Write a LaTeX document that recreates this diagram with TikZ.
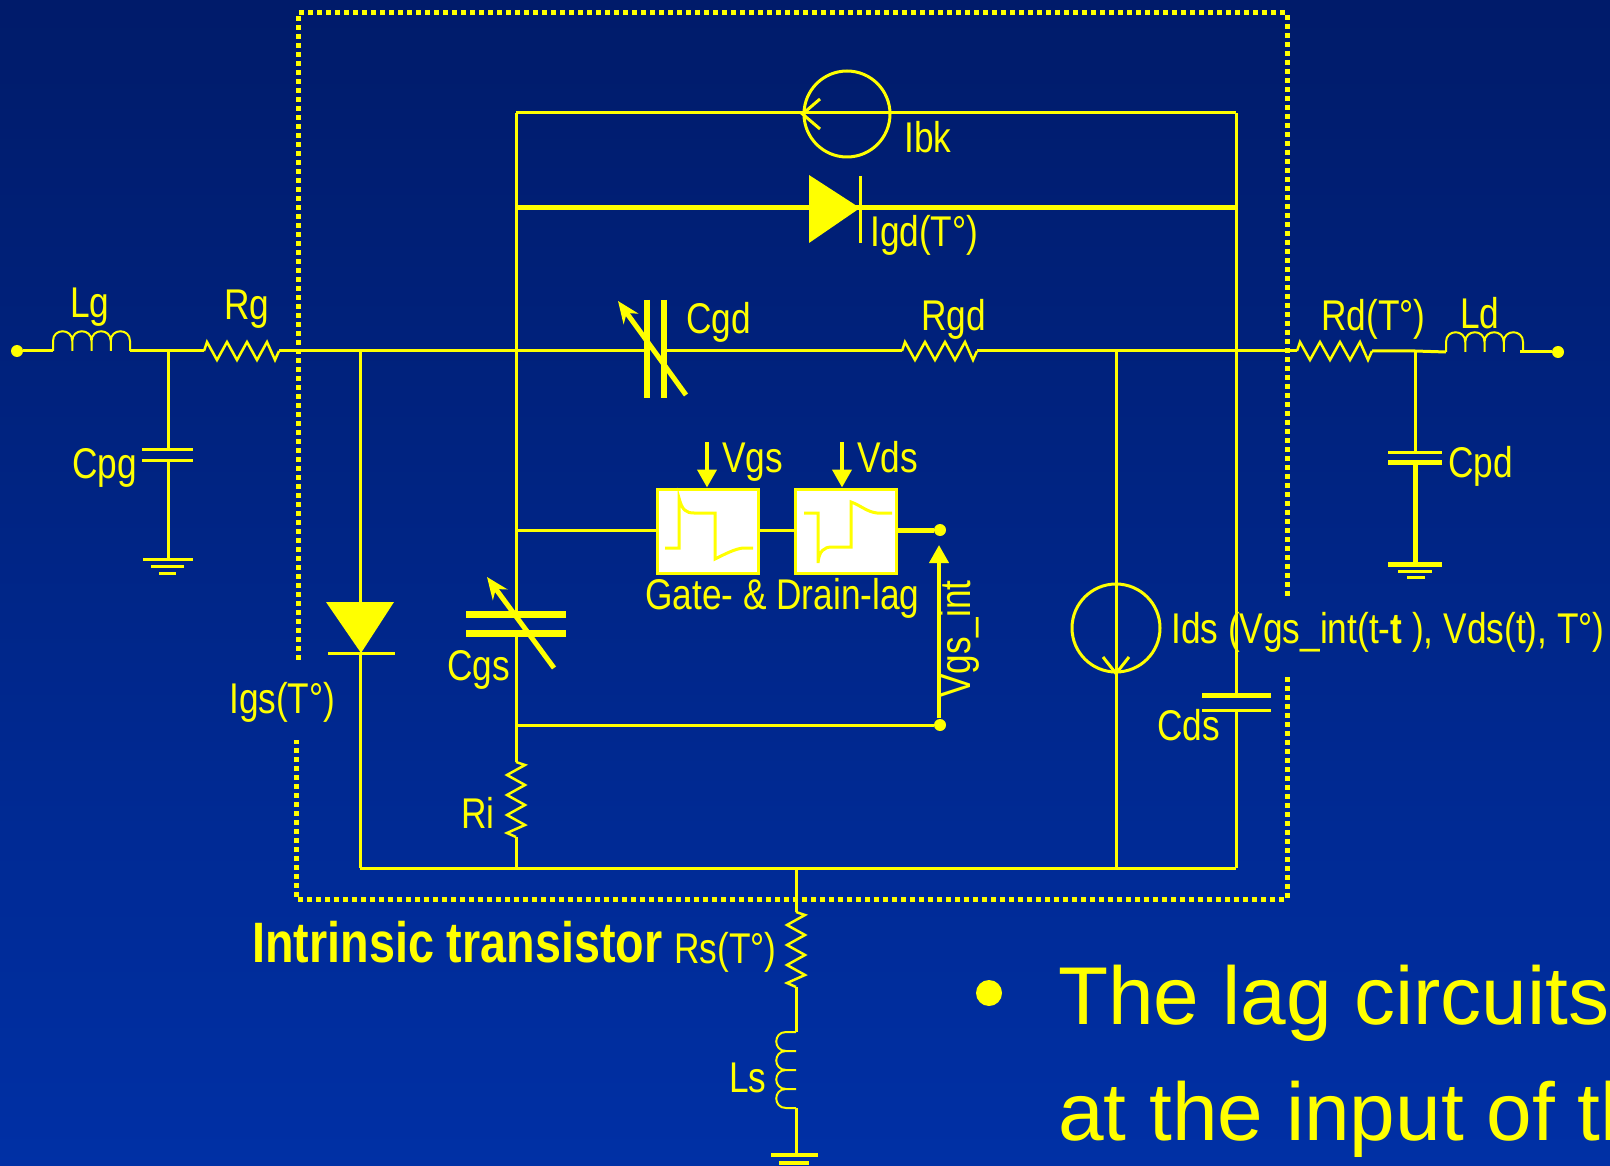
\documentclass[tikz,border=0pt]{standalone}
\usepackage{fontspec}
\setmainfont{Liberation Sans}
\newfontfamily\cond{Liberation Sans}[FakeStretch=0.82]
\usetikzlibrary{arrows.meta}
\definecolor{ylw}{RGB}{255,255,0}
\definecolor{bgtop}{RGB}{0,27,106}
\definecolor{bgbot}{RGB}{0,48,165}
\newcommand\zzh[2]{\draw[res] (#1,#2) -- ++(3,-9) -- ++(10,18) -- ++(10,-18) -- ++(10,18) -- ++(10,-18) -- ++(10,18) -- ++(10,-18) -- ++(8,18) -- ++(4,-9);}
\newcommand\zzv[2]{\draw[res] (#1,#2) -- ++(9,3) -- ++(-18,10) -- ++(18,10) -- ++(-18,10) -- ++(18,10) -- ++(-18,10) -- ++(18,10) -- ++(-18,8) -- ++(9,4);}
\newcommand\indh[2]{\draw[coil] (#1,#2) foreach \k in {0,1,2,3} { -- ++(0,-10) .. controls +(0,-13) and +(0,-13) .. ++(19.25,0) -- ++(0,10) };}
\newcommand\indv[2]{\draw[coil] (#1,#2) foreach \k in {0,1,2,3} { -- ++(-10,0) .. controls +(-13,0) and +(-13,0) .. ++(0,19) -- ++(10,0) };}
\begin{document}
\begin{tikzpicture}[x=1pt,y=-1pt,
  wire/.style={draw=ylw,line width=3pt},
  twire/.style={draw=ylw,line width=5pt},
  res/.style={draw=ylw,line width=2.5pt,line join=miter},
  coil/.style={draw=ylw,line width=2pt},
  lbl/.style={text=ylw,inner sep=0pt,anchor=base west,font=\cond\fontsize{43}{43}\selectfont},
  dotbox/.style={draw=ylw,line width=5pt,dash pattern=on 5pt off 4pt},
  term/.style={circle,fill=ylw,inner sep=0pt,minimum size=12pt},
  lagbox/.style={draw=ylw,fill=white,line width=3pt,inner sep=0pt},
  varr/.style={draw=ylw,line width=5pt,-{Stealth[length=22pt,width=18pt]}},
  sigarr/.style={draw=ylw,line width=4pt,-{Triangle[length=18pt,width=19pt]}},
  wave/.style={draw=ylw,line width=3pt}
]
\shade[top color=bgtop,bottom color=bgbot] (0,0) rectangle (1610,1166);
\useasboundingbox (0,0) rectangle (1610,1166);
\clip (0,0) rectangle (1610,1166);

% intrinsic box (dotted)
\draw[dotbox] (298,660) -- (298,13) -- (1287,13) -- (1287,597);
\draw[dotbox] (1287,677) -- (1287,899) -- (296,899) -- (296,740);

% named junctions
\node[term] (G) at (17,351) {};
\node[term] (D) at (1558,352) {};
\coordinate (Lg1) at (53,351);   \coordinate (Lg2) at (130,351);
\coordinate (jpg) at (168,351);
\coordinate (Rg1) at (204,351);  \coordinate (Rg2) at (279,351);
\coordinate (jgs) at (360,351);
\coordinate (jg)  at (516,351);
\coordinate (Cgd1) at (647,351); \coordinate (Cgd2) at (664,351);
\coordinate (Rgd1) at (902,351); \coordinate (Rgd2) at (977,351);
\coordinate (jds) at (1116,351);
\coordinate (jd)  at (1236,351);
\coordinate (Rd1) at (1297,351); \coordinate (Rd2) at (1372,351);
\coordinate (jpd) at (1415,351);
\coordinate (Ld1) at (1446,352); \coordinate (Ld2) at (1520,352);
\coordinate (TL) at (516,113);   \coordinate (TR) at (1236,113);
\coordinate (GL) at (516,208);   \coordinate (GR) at (1236,208);
\coordinate (BL) at (360,868);   \coordinate (BR) at (1236,868);
\coordinate (BRi) at (516,868);  \coordinate (BS) at (796,868);
\coordinate (BDs) at (1116,868);

% main horizontal line
\draw[wire] (G) -- (Lg1);
\indh{53}{351}
\draw[wire] (Lg2) -- (Rg1);
\zzh{204}{351}
\draw[wire] (Rg2) -- (Cgd1);
\draw[wire] (Cgd2) -- (Rgd1);
\zzh{902}{351}
\draw[wire] (Rgd2) -- (Rd1);
\zzh{1297}{351}
\draw[wire] (Rd2) -- (jpd) -- (1446,352);
\indh{1446}{352}
\draw[wire] (Ld2) -- (D);

% Cpg
\coordinate (Cpg1) at (168,449); \coordinate (Cpg2) at (168,460); \coordinate (gpg) at (168,559);
\draw[wire] (jpg) -- (Cpg1);
\draw[wire] (142,449) -- (193,449);
\draw[wire] (142,460) -- (193,460);
\draw[wire] (Cpg2) -- (gpg);
\draw[wire] (143,559) -- (193,559);
\draw[wire] (151,566) -- (184,566);
\draw[wire] (159,573) -- (176,573);

% Cpd
\coordinate (Cpd1) at (1415,452); \coordinate (Cpd2) at (1415,462); \coordinate (gpd) at (1415,563);
\draw[wire] (jpd) -- (Cpd1);
\draw[wire] (1388,452) -- (1442,452);
\draw[twire] (1388,462) -- (1442,462);
\draw[twire] (Cpd2) -- (gpd);
\draw[twire] (1388,564) -- (1442,564);
\draw[wire] (1398,571) -- (1432,571);
\draw[wire] (1407,577) -- (1425,577);

% Igs diode
\coordinate (Dgs1) at (360,602); \coordinate (Dgs2) at (360,653);
\draw[wire] (jgs) -- (Dgs1);
\fill[ylw] (326,602) -- (394,602) -- (361,653) -- cycle;
\draw[wire] (328,653) -- (395,653);
\draw[wire] (Dgs2) -- (BL);
\draw[wire] (BL) -- (BR);

% inner rectangle
\coordinate (Cgs1) at (516,614); \coordinate (Cgs2) at (516,633);
\coordinate (Ri1) at (516,762); \coordinate (Ri2) at (516,837);
\draw[wire] (TL) -- (Cgs1);
\draw[wire] (Cgs2) -- (Ri1);
\zzv{516}{762}
\draw[wire] (Ri2) -- (BRi);
\coordinate (Cds1) at (1236,695); \coordinate (Cds2) at (1236,710);
\draw[wire] (TR) -- (Cds1);
\draw[wire] (Cds2) -- (BR);
\draw[wire] (TL) -- (TR);

% Ibk source
\node[circle,draw=ylw,line width=3pt,minimum size=86pt,inner sep=0pt] (Ibk) at (847,114) {};
\draw[wire] (820,99) -- (Ibk.west) -- (820,129);

% Igd diode
\draw[twire] (GL) -- (GR);
\fill[ylw] (809,175) -- (809,243) -- (860,208) -- cycle;
\draw[wire] (860,176) -- (860,243);

% Cgd
\draw[draw=ylw,line width=6pt] (647,300) -- (647,398);
\draw[draw=ylw,line width=6pt] (664,300) -- (664,398);
\draw[varr] (686,395) -- (618,301);

% Cgs
\draw[draw=ylw,line width=7pt] (466,614) -- (566,614);
\draw[draw=ylw,line width=7pt] (466,633) -- (566,633);
\draw[varr] (554,668) -- (487,577);

% Ids source
\draw[wire] (jds) -- (BDs);
\node[circle,draw=ylw,line width=3pt,minimum size=88pt,inner sep=0pt] (Ids) at (1116,628) {};
\draw[wire] (1103,657) -- (Ids.south) -- (1129,657);

% Cds
\draw[twire] (1202,695) -- (1271,695);
\draw[wire] (1202,710) -- (1271,710);

% lag circuits
\node[lagbox,minimum width=101pt,minimum height=84pt] (B1) at (707.5,531) {};
\node[lagbox,minimum width=101pt,minimum height=84pt] (B2) at (845.5,531) {};
\coordinate (lagL) at (516,530);
\node[term] (Vo) at (940,530) {};
\node[term] (Vb) at (940,725) {};
\coordinate (lowL) at (516,725);
\draw[wire] (lagL) -- (B1.west |- lagL);
\draw[wire] (B1.east |- lagL) -- (B2.west |- lagL);
\draw[twire] (B2.east |- lagL) -- (Vo);
\draw[wire] (lowL) -- (Vb);
\draw[wave] (665,548) -- (679,548) -- (679,498) .. controls (682,510) and (686,513) .. (694,513) -- (715,513) -- (715,559) .. controls (727,553) and (735,549) .. (743,548) -- (753,548);
\draw[wave] (804,513) -- (818,513) -- (818,563) .. controls (819,551) and (824,547) .. (832,547) -- (851,547) -- (851,502) .. controls (860,505) and (867,512) .. (877,513) -- (892,513);
\coordinate (vgsA) at (707,442); \coordinate (vdsA) at (842,442);
\draw[sigarr] (vgsA) -- (B1.north -| vgsA);
\draw[sigarr] (vdsA) -- (B2.north -| vdsA);
\coordinate (viA) at (939,718);
\draw[sigarr] (viA) -- (939,545);

% source branch
\coordinate (Rs1) at (796,912); \coordinate (Rs2) at (796,987);
\coordinate (Ls1) at (796,1032); \coordinate (Ls2) at (796,1108);
\coordinate (gs) at (796,1155);
\draw[wire] (BS) -- (Rs1);
\zzv{796}{912}
\draw[wire] (Rs2) -- (Ls1);
\indv{796}{1032}
\draw[wire] (Ls2) -- (gs);
\draw[draw=ylw,line width=4pt] (771,1155) -- (818,1155);
\draw[draw=ylw,line width=4pt] (779,1163) -- (809,1163);

% labels
\node[lbl] (tLg) at (70,318) {Lg};
\node[lbl] (tRg) at (224,320) {Rg};
\node[lbl] (tCpg) at (72,478) {Cpg};
\node[lbl] (tIgs) at (229,713) {Igs(T°)};
\node[lbl] (tCgs) at (447,680) {Cgs};
\node[lbl] (tRi) at (461,828) {Ri};
\node[lbl] (tCgd) at (686,334) {Cgd};
\node[lbl] (tRgd) at (921,331) {Rgd};
\node[lbl] (tIbk) at (904,153) {Ibk};
\node[lbl] (tIgd) at (870,247) {Igd(T°)};
\node[lbl] (tVgs) at (722,472) {Vgs};
\node[lbl] (tVds) at (857,472) {Vds};
\node[lbl] (tLag) at (645,609) {Gate- \& Drain-lag};
\node[lbl,rotate=90] (tVi) at (970,698) {Vgs\_int};
\node[lbl] (tIds) at (1171,643) {Ids (Vgs\_int(t-{\bfseries t} ), Vds(t), T°)};
\node[lbl] (tCds) at (1157,740) {Cds};
\node[lbl] (tRd) at (1321,331) {Rd(T°)};
\node[lbl] (tLd) at (1460,329) {Ld};
\node[lbl] (tCpd) at (1448,477) {Cpd};
\node[lbl,font=\cond\bfseries\fontsize{57}{57}\selectfont] (tIT) at (252,962) {Intrinsic transistor};
\node[lbl] (tRs) at (674,963) {Rs(T°)};
\node[lbl] (tLs) at (729,1092) {Ls};

% bullet text
\fill[ylw] (989,993) circle (13);
\node[lbl,font=\fontsize{82}{82}\selectfont] (b1) at (1058,1024) {The lag circuits};
\node[lbl,font=\fontsize{82}{82}\selectfont] (b2) at (1058,1140) {at the input of th};
\end{tikzpicture}
\end{document}
